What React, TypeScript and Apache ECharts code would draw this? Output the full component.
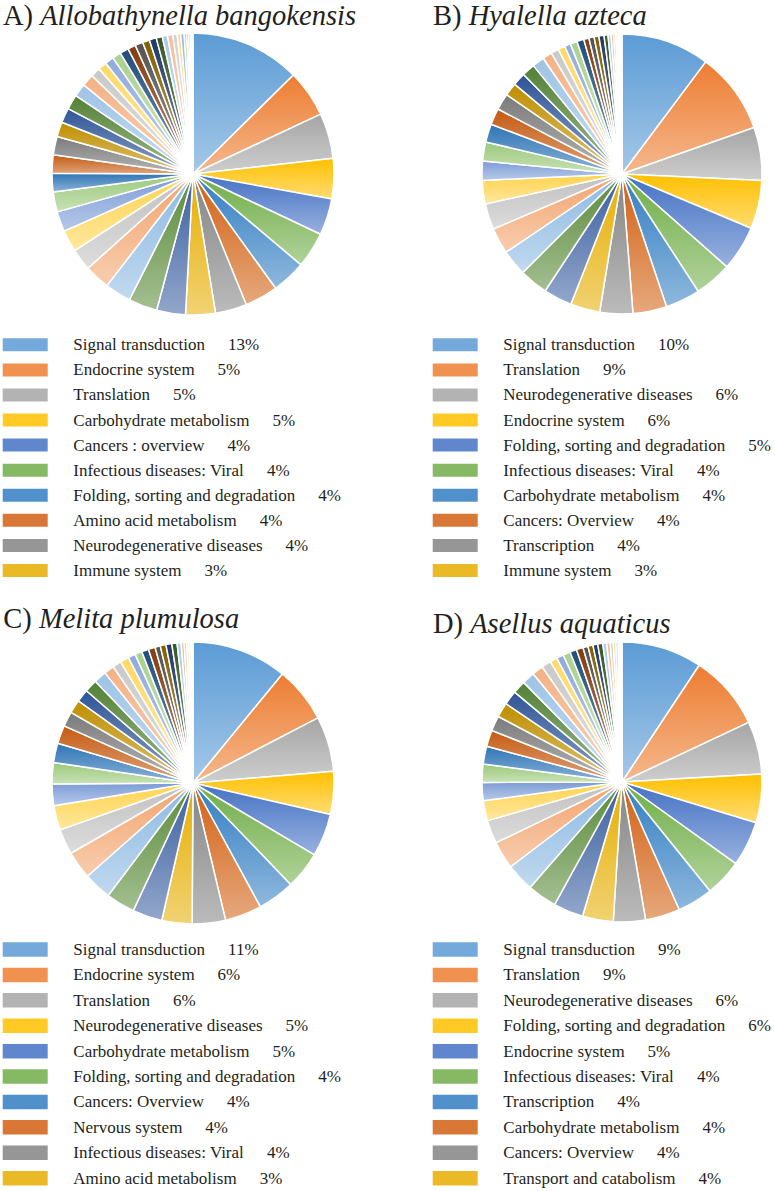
import React, { useEffect, useRef } from 'react';
import * as echarts from 'echarts';

const FONT = "'Liberation Serif', 'Times New Roman', Times, serif";
const INK = '#231F20';

// ---- Data (percent of KEGG annotations per category) ----
const namesA = ['Signal transduction', 'Endocrine system', 'Translation', 'Carbohydrate metabolism', 'Cancers : overview', 'Infectious diseases: Viral', 'Folding, sorting and degradation', 'Amino acid metabolism', 'Neurodegenerative diseases', 'Immune system'];
const valuesA = [12.6, 5.4, 5.2, 4.6, 4.2, 4.1, 3.9, 3.8, 3.6, 3.4, 3.3, 3.3, 3.0, 2.9, 2.5, 2.5, 2.3, 2.3, 2.1, 2.1, 2.1, 1.7, 1.7, 1.7, 1.5, 1.4, 1.1, 1.0, 1.0, 1.0, 1.0, 0.9, 0.9, 0.8, 0.8, 0.7, 0.6, 0.6, 0.5, 0.4, 0.4, 0.3, 0.2, 0.2, 0.15, 0.15];

const namesB = ['Signal transduction', 'Translation', 'Neurodegenerative diseases', 'Endocrine system', 'Folding, sorting and degradation', 'Infectious diseases: Viral', 'Carbohydrate metabolism', 'Cancers: Overview', 'Transcription', 'Immune system'];
const valuesB = [10.2, 9.4, 6.1, 5.6, 5.2, 4.3, 4.0, 3.9, 3.8, 3.4, 3.3, 3.3, 3.0, 3.0, 3.0, 2.7, 2.2, 2.2, 2.1, 1.9, 1.9, 1.5, 1.5, 1.5, 1.4, 1.1, 0.9, 0.8, 0.7, 0.8, 0.8, 0.6, 0.6, 0.55, 0.6, 0.45, 0.35, 0.3, 0.25, 0.2, 0.15, 0.15, 0.1, 0.1];

const namesC = ['Signal transduction', 'Endocrine system', 'Translation', 'Neurodegenerative diseases', 'Carbohydrate metabolism', 'Folding, sorting and degradation', 'Cancers: Overview', 'Nervous system', 'Infectious diseases: Viral', 'Amino acid metabolism'];
const valuesC = [10.9, 6.4, 6.3, 4.9, 4.9, 4.3, 4.25, 4.2, 3.8, 3.45, 3.4, 3.3, 3.2, 3.2, 2.9, 2.8, 2.45, 2.45, 2.2, 2.1, 1.7, 1.55, 1.45, 1.45, 1.45, 1.15, 1.0, 1.0, 0.85, 0.8, 0.8, 0.78, 0.6, 0.65, 0.67, 0.6, 0.45, 0.35, 0.3, 0.25, 0.2, 0.15, 0.1];

const namesD = ['Signal transduction', 'Translation', 'Neurodegenerative diseases', 'Folding, sorting and degradation', 'Endocrine system', 'Infectious diseases: Viral', 'Transcription', 'Carbohydrate metabolism', 'Cancers: Overview', 'Transport and catabolism'];
const valuesD = [9.3, 8.7, 6.1, 5.6, 5.2, 4.3, 4.1, 4.0, 3.7, 3.55, 3.45, 3.4, 3.25, 3.2, 2.7, 2.3, 2.1, 2.1, 2.05, 1.9, 1.75, 1.7, 1.65, 1.5, 1.45, 1.3, 1.1, 0.85, 0.8, 0.85, 0.78, 0.78, 0.58, 0.58, 0.55, 0.58, 0.45, 0.4, 0.35, 0.3, 0.25, 0.2, 0.15, 0.1];

const titles = [
  { letter: 'A) ', species: 'Allobathynella bangokensis' },
  { letter: 'B) ', species: 'Hyalella azteca' },
  { letter: 'C) ', species: 'Melita plumulosa' },
  { letter: 'D) ', species: 'Asellus aquaticus' },
];

// Office-style series palette
const PALETTE = [
  '#5B9BD5', '#ED7D31', '#A5A5A5', '#FFC000', '#4472C4', '#70AD47',
  '#327DC2', '#D26012', '#848484', '#E6AE00', '#3A5FA0', '#5A8A39',
  '#8DB9E2', '#F2A46E', '#C0C0C0', '#FFD34D', '#7C9CD6', '#9BC97B',
  '#2E75B6', '#C55A11', '#7B7B7B', '#BF8F00', '#2F5597', '#538135',
  '#9DC3E6', '#F4B183', '#C9C9C9', '#FFD966', '#8FAADC', '#A9D18E',
  '#1F4E79', '#843C0C', '#525252', '#7F6000', '#203864', '#385723',
  '#A9CCEB', '#F6BE98', '#D2D2D2', '#FFDF80', '#9FB6E2', '#B7D8A0',
  '#41719C', '#AE5A21', '#6E6E6E', '#A88000', '#2E4C84', '#4A7430',
];

function mix(hex: string, t: number) {
  const n = parseInt(hex.slice(1), 16);
  const r = (n >> 16) & 255, g = (n >> 8) & 255, b = n & 255;
  const f = (c: number) => Math.round(c + (255 - c) * t);
  return `rgb(${f(r)},${f(g)},${f(b)})`;
}

function sliceColor(i: number) {
  const base = PALETTE[i % PALETTE.length];
  return new echarts.graphic.LinearGradient(0, 0, 0, 1, [
    { offset: 0, color: base },
    { offset: 1, color: mix(base, 0.45) },
  ]);
}

const panels = [
  { names: namesA, values: valuesA, center: [193, 174], r: 141, tx: 3, tBase: 25, lx: 2.7, ly: 336.3, sw: 13, pitch: 25.08 },
  { names: namesB, values: valuesB, center: [622, 174], r: 140, tx: 433, tBase: 24.8, lx: 432.7, ly: 336.3, sw: 13, pitch: 25.08 },
  { names: namesC, values: valuesC, center: [193, 783], r: 141, tx: 3.3, tBase: 628.5, lx: 2.7, ly: 941.05, sw: 14.5, pitch: 25.4 },
  { names: namesD, values: valuesD, center: [622, 782], r: 140, tx: 433, tBase: 633, lx: 432.7, ly: 941.05, sw: 14.5, pitch: 25.4 },
];

export default function App() {
  const ref = useRef<HTMLDivElement>(null);
  useEffect(() => {
    if (!ref.current) return;
    const chart = echarts.init(ref.current, null, { renderer: 'svg' });
    const TITLE_SIZE = 28.5;
    const option: any = {
      animation: false,
      backgroundColor: '#ffffff',
      graphic: panels.map((p, k) => ({
        type: 'text',
        x: p.tx,
        y: p.tBase - TITLE_SIZE * 0.3375,
        silent: true,
        style: {
          text: `{l|${titles[k].letter}}{s|${titles[k].species}}`,
          verticalAlign: 'middle',
          align: 'left',
          rich: {
            l: { fontFamily: FONT, fontSize: TITLE_SIZE, fill: INK, lineHeight: TITLE_SIZE },
            s: { fontFamily: FONT, fontSize: TITLE_SIZE, fontStyle: 'italic', fill: INK, lineHeight: TITLE_SIZE },
          },
        },
      })),
      legend: panels.map((p) => {
        const total = p.values.reduce((a, b) => a + b, 0);
        return {
          orient: 'vertical',
          left: p.lx,
          top: p.ly,
          padding: 0,
          itemWidth: 45,
          itemHeight: p.sw,
          itemGap: p.pitch - 17,
          icon: 'rect',
          selectedMode: false,
          data: p.names.map((n, i) => ({ name: n, itemStyle: { color: mix(PALETTE[i], 0.15), borderWidth: 0 } })),
          formatter: (name: string) => {
            const idx = p.names.indexOf(name);
            const pct = Math.round((p.values[idx] / total) * 100);
            return `{n|${name}}{p|${pct}%}`;
          },
          textStyle: {
            rich: {
              n: { fontFamily: FONT, fontSize: 17, color: INK, lineHeight: 17, padding: [0, 0, 0, 20.6] },
              p: { fontFamily: FONT, fontSize: 17, color: INK, lineHeight: 17, padding: [0, 0, 0, 23] },
            },
          },
        };
      }),
      series: panels.map((p) => ({
        type: 'pie',
        center: p.center,
        radius: [0, p.r],
        startAngle: 90,
        clockwise: true,
        silent: true,
        label: { show: false },
        labelLine: { show: false },
        itemStyle: { borderColor: '#ffffff', borderWidth: 1.5 },
        data: p.values.map((v, i) => ({
          value: v,
          name: i < p.names.length ? p.names[i] : `Other category ${i + 1}`,
          itemStyle: { color: sliceColor(i) },
        })),
      })),
    };
    chart.setOption(option);
    return () => chart.dispose();
  }, []);
  return (
    <div
      ref={ref}
      style={{ position: 'absolute', left: 0, top: 0, width: 775, height: 1191, background: '#fff' }}
    />
  );
}
